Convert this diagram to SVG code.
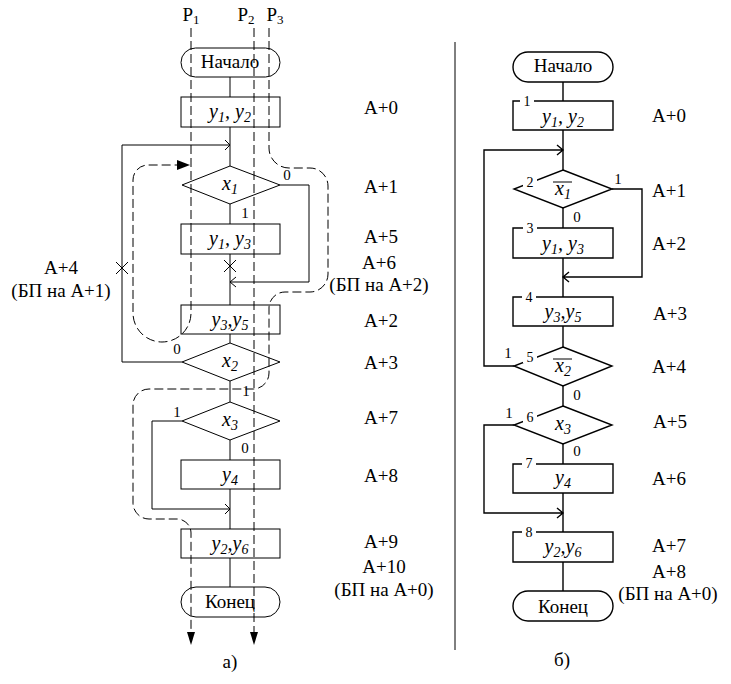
<svg xmlns="http://www.w3.org/2000/svg" width="731" height="684" viewBox="0 0 731 684" font-family="'Liberation Serif', serif">
<style>
text{font-family:"Liberation Serif","Times New Roman",serif;fill:#000}
.t{font-size:19px;text-anchor:middle}
.i{font-size:20px;text-anchor:middle;font-style:italic}
.s{font-size:14px}
.p{font-size:13px}
.d{font-size:15px;text-anchor:middle}
.n{font-size:14px;text-anchor:middle}
.L{fill:none;stroke:#000;stroke-width:1}
.R{fill:none;stroke:#000;stroke-width:1.4}
.dash{fill:none;stroke:#000;stroke-width:1;stroke-dasharray:9,4}
.bg{fill:#fff;stroke:none}
</style>
<rect width="731" height="684" fill="#fff"/>

<!-- ===== Left diagram (a) ===== -->
<g id="a-connectors">
  <path class="L" d="M230 77V97M230 127V166M230 204V224M230 254V305M230 334V343M230 381V402M230 440V460M230 489V529M230 558V587"/>
  <path class="L" d="M182 362H122V145H230M225 140L230 145L225 150"/>
  <path class="L" d="M280 185H309V282H230M236 277L230 282L236 287"/>
  <path class="L" d="M182 421H152V509H230M225 504L230 509L225 514"/>
  <path class="L" d="M116 262L128 274M128 262L116 274M224 260L236 272M236 260L224 272"/>
  <text class="d" x="287" y="180">0</text>
  <text class="d" x="245" y="218">1</text>
  <text class="d" x="177" y="354">0</text>
  <text class="d" x="246" y="396">1</text>
  <text class="d" x="177" y="417">1</text>
  <text class="d" x="245" y="453">0</text>
</g>
<g id="a-start"><rect class="L" x="181" y="48" width="99" height="29" rx="14.5"/><text class="t" x="230" y="68">Начало</text></g>
<g id="a-y1y2"><rect class="L" x="181" y="97" width="99" height="30"/><text class="i" x="230" y="118">y<tspan class="s" dy="4">1</tspan><tspan dy="-4">, y</tspan><tspan class="s" dy="4">2</tspan></text></g>
<g id="a-x1"><polygon class="L" points="230,166 280,185 230,204 182,185"/><text class="i" x="230" y="190">x<tspan class="s" dy="4">1</tspan></text></g>
<g id="a-y1y3"><rect class="L" x="181" y="224" width="99" height="30"/><text class="i" x="230" y="245">y<tspan class="s" dy="4">1</tspan><tspan dy="-4">, y</tspan><tspan class="s" dy="4">3</tspan></text></g>
<g id="a-y3y5"><rect class="L" x="181" y="305" width="99" height="29"/><text class="i" x="230" y="326">y<tspan class="s" dy="4">3</tspan><tspan dy="-4">,y</tspan><tspan class="s" dy="4">5</tspan></text></g>
<g id="a-x2"><polygon class="L" points="230,343 280,362 230,381 182,362"/><text class="i" x="230" y="367">x<tspan class="s" dy="4">2</tspan></text></g>
<g id="a-x3"><polygon class="L" points="230,402 280,421 230,440 182,421"/><text class="i" x="230" y="426">x<tspan class="s" dy="4">3</tspan></text></g>
<g id="a-y4"><rect class="L" x="181" y="460" width="99" height="29"/><text class="i" x="230" y="481">y<tspan class="s" dy="4">4</tspan></text></g>
<g id="a-y2y6"><rect class="L" x="181" y="529" width="99" height="29"/><text class="i" x="230" y="550">y<tspan class="s" dy="4">2</tspan><tspan dy="-4">,y</tspan><tspan class="s" dy="4">6</tspan></text></g>
<g id="a-end"><rect class="L" x="181" y="587" width="99" height="30" rx="15"/><text class="t" x="230" y="608">Конец</text></g>

<g id="a-paths">
  <path class="dash" d="M191 28V313A29 29 0 0 1 133 313V180A15 15 0 0 1 148 165H178"/>
  <polygon points="177,160 177,170 190,165"/>
  <path class="dash" d="M254 28V633"/>
  <path class="dash" d="M269 28V148A20 20 0 0 0 289 168H310A18 18 0 0 1 328 186V274A18 18 0 0 1 310 292H285A16 16 0 0 0 269 308V373A16 16 0 0 1 253 389H149A16 16 0 0 0 133 405V503A16 16 0 0 0 149 519H177A14 14 0 0 1 191 533V633"/>
  <polygon points="187,632 195,632 191,645"/>
  <polygon points="250,632 258,632 254,645"/>
  <text class="t" x="191" y="21">P<tspan class="p" dy="3">1</tspan></text>
  <text class="t" x="246" y="21">P<tspan class="p" dy="3">2</tspan></text>
  <text class="t" x="275" y="21">P<tspan class="p" dy="3">3</tspan></text>
</g>

<g id="a-labels">
  <text class="t" x="381" y="114">А+0</text>
  <text class="t" x="381" y="193">А+1</text>
  <text class="t" x="381" y="243">А+5</text>
  <text class="t" x="379" y="269">А+6</text>
  <text class="t" x="379" y="291">(БП на А+2)</text>
  <text class="t" x="381" y="327">А+2</text>
  <text class="t" x="381" y="369">А+3</text>
  <text class="t" x="381" y="424">А+7</text>
  <text class="t" x="381" y="482">А+8</text>
  <text class="t" x="381" y="548">А+9</text>
  <text class="t" x="384" y="573">А+10</text>
  <text class="t" x="384" y="596">(БП на А+0)</text>
  <text class="t" x="61" y="274">А+4</text>
  <text class="t" x="61" y="297">(БП на А+1)</text>
  <text class="t" x="230" y="668">а)</text>
</g>

<line class="L" x1="455" y1="42" x2="455" y2="650"/>

<!-- ===== Right diagram (б) ===== -->
<g id="b-connectors">
  <path class="R" d="M563 82V101M563 130V170M563 208V228M563 258V297M563 326V347M563 386V406M563 444V464M563 493V532M563 562V591"/>
  <path class="R" d="M514 366H484V150H563M557 145L563 150L557 155"/>
  <path class="R" d="M612 189H642V277H563M569 272L563 277L569 282"/>
  <path class="R" d="M514 425H484V513H563M557 508L563 513L557 518"/>
  <text class="d" x="618" y="184">1</text>
  <text class="d" x="577" y="222">0</text>
  <text class="d" x="508" y="358">1</text>
  <text class="d" x="577" y="400">0</text>
  <text class="d" x="509" y="418">1</text>
  <text class="d" x="577" y="456">0</text>
</g>
<g id="b-start"><rect class="R" x="513" y="52" width="100" height="30" rx="15"/><text class="t" x="563" y="72">Начало</text></g>
<g id="b-1"><path class="R" d="M520 101H513V130H613V101H534"/><text class="n" x="527" y="106">1</text><text class="i" x="563" y="123">y<tspan class="s" dy="4">1</tspan><tspan dy="-4">, y</tspan><tspan class="s" dy="4">2</tspan></text></g>
<g id="b-2"><polygon class="R" points="563,170 612,189 563,208 514,189"/><rect class="bg" x="523" y="176" width="14" height="12"/><text class="n" x="530" y="187">2</text><text class="i" x="563" y="195">x<tspan class="s" dy="4">1</tspan></text><line class="L" x1="553" y1="182" x2="572" y2="182"/></g>
<g id="b-3"><path class="R" d="M523 228H513V258H613V228H537"/><text class="n" x="530" y="233">3</text><text class="i" x="563" y="250">y<tspan class="s" dy="4">1</tspan><tspan dy="-4">, y</tspan><tspan class="s" dy="4">3</tspan></text></g>
<g id="b-4"><path class="R" d="M522 297H513V326H613V297H536"/><text class="n" x="529" y="302">4</text><text class="i" x="563" y="318">y<tspan class="s" dy="4">3</tspan><tspan dy="-4">,y</tspan><tspan class="s" dy="4">5</tspan></text></g>
<g id="b-5"><polygon class="R" points="563,347 612,366 563,386 514,366"/><rect class="bg" x="523" y="351" width="14" height="12"/><text class="n" x="530" y="362">5</text><text class="i" x="563" y="372">x<tspan class="s" dy="4">2</tspan></text><line class="L" x1="553" y1="359" x2="572" y2="359"/></g>
<g id="b-6"><polygon class="R" points="563,406 612,425 563,444 514,425"/><rect class="bg" x="523" y="411" width="14" height="12"/><text class="n" x="530" y="422">6</text><text class="i" x="563" y="430">x<tspan class="s" dy="4">3</tspan></text></g>
<g id="b-7"><path class="R" d="M522 464H513V493H613V464H536"/><text class="n" x="529" y="468">7</text><text class="i" x="563" y="484">y<tspan class="s" dy="4">4</tspan></text></g>
<g id="b-8"><path class="R" d="M522 532H513V562H613V532H536"/><text class="n" x="529" y="537">8</text><text class="i" x="563" y="553">y<tspan class="s" dy="4">2</tspan><tspan dy="-4">,y</tspan><tspan class="s" dy="4">6</tspan></text></g>
<g id="b-end"><rect class="R" x="513" y="591" width="100" height="30" rx="15"/><text class="t" x="563" y="613">Конец</text></g>

<g id="b-labels">
  <text class="t" x="669" y="122">А+0</text>
  <text class="t" x="669" y="197">А+1</text>
  <text class="t" x="669" y="250">А+2</text>
  <text class="t" x="670" y="320">А+3</text>
  <text class="t" x="669" y="373">А+4</text>
  <text class="t" x="670" y="428">А+5</text>
  <text class="t" x="669" y="485">А+6</text>
  <text class="t" x="669" y="552">А+7</text>
  <text class="t" x="669" y="578">А+8</text>
  <text class="t" x="668" y="600">(БП на А+0)</text>
  <text class="t" x="562" y="666">б)</text>
</g>
</svg>
